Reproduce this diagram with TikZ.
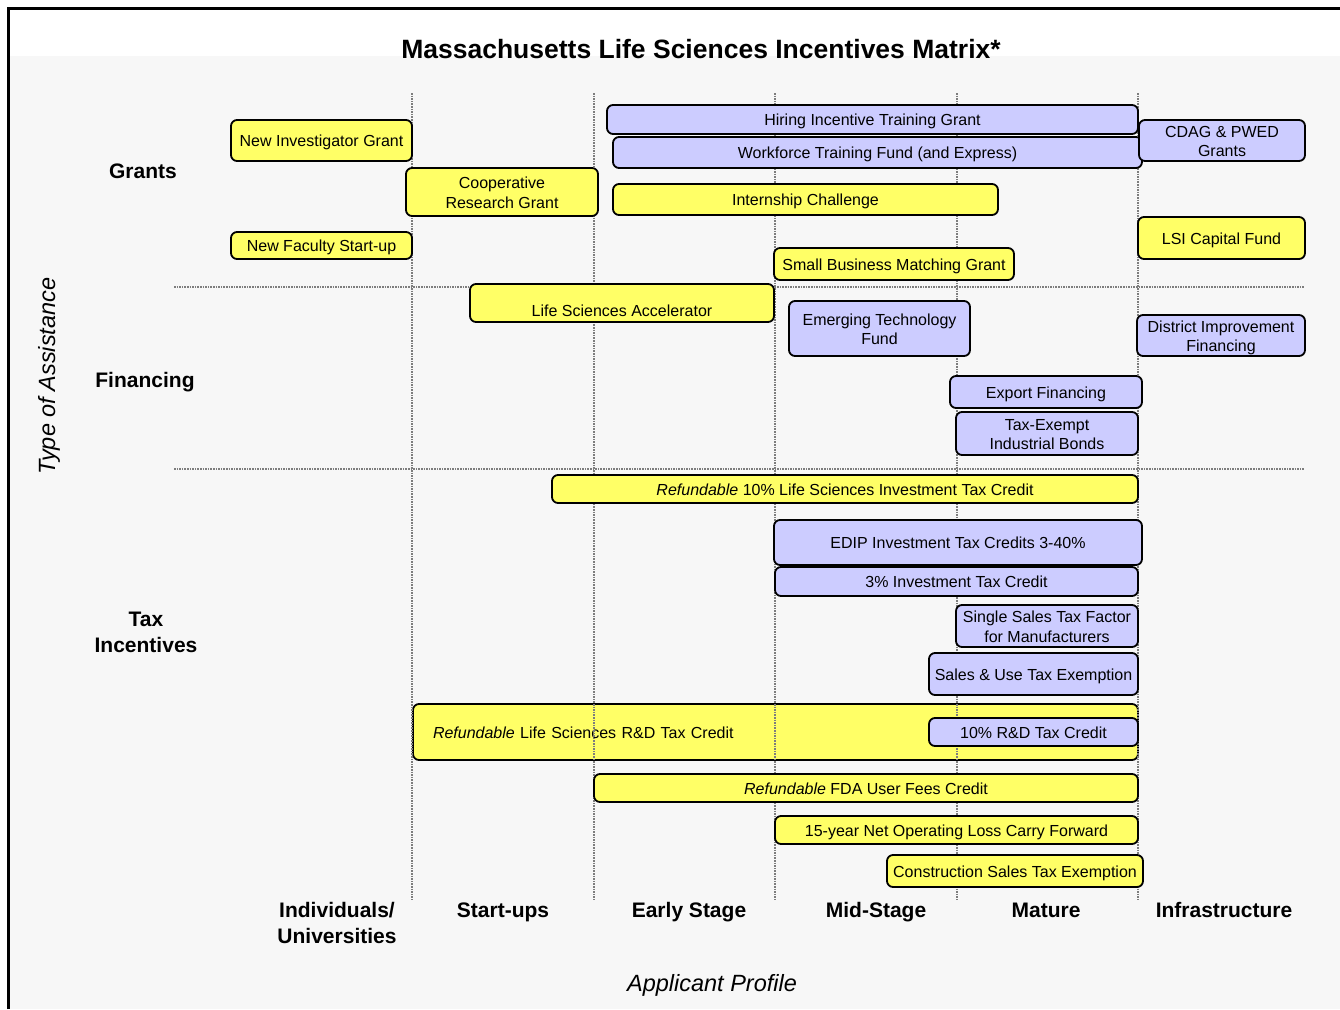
\documentclass[tikz,border=0pt]{standalone}
\usepackage{fontspec}
\setmainfont{Liberation Sans}
\definecolor{yel}{RGB}{255,255,102}
\definecolor{blu}{RGB}{204,204,255}
\definecolor{bgc}{RGB}{247,247,247}
\definecolor{dotc}{RGB}{125,125,125}
\newcommand{\lowtxt}[1]{\raisebox{-2.5pt}[\height][\depth]{\begin{tabular}{@{}c@{}}#1\end{tabular}}}
\tikzset{
  cell/.style={draw=black, line width=1.8pt, rounded corners=6pt, inner sep=0pt,
    align=center, font=\fontsize{16}{19.5}\selectfont},
  yc/.style={cell, fill=yel},
  bc/.style={cell, fill=blu},
  gridline/.style={draw=dotc, line width=2.2pt, dash pattern=on 1.6pt off 1pt},
  rowlab/.style={font=\bfseries\fontsize{21}{26}\selectfont, align=center},
  axlab/.style={font=\itshape\fontsize{23.5}{28}\selectfont},
}
\begin{document}
\begin{tikzpicture}[x=1pt,y=-1pt]
\useasboundingbox (0,0) rectangle (1340,1009);
\fill[white] (0,0) rectangle (1340,1009);
\fill[bgc] (10,56) rectangle (1340,1009);
\draw[line width=3pt] (8.5,1009) -- (8.5,8.5) -- (1340,8.5);

% title and axis labels
\node[font=\bfseries\fontsize{26.5}{30}\selectfont] (title) at (701,49) {Massachusetts Life Sciences Incentives Matrix*};
\node[axlab] (ap) at (712,985) {Applicant Profile};
\node[axlab, rotate=90] (toa) at (49,376) {Type of Assistance};

% row labels
\node[rowlab] (rg) at (143,171) {Grants};
\node[rowlab] (rf) at (145,382) {Financing};
\node[rowlab] (rt) at (146,632) {Tax\\Incentives};

% column labels
\node[rowlab, anchor=north] (c1) at (337,899) {Individuals/\\Universities};
\node[rowlab, anchor=base] (c2) at (503,917.5) {Start-ups};
\node[rowlab, anchor=base] (c3) at (689,917.5) {Early Stage};
\node[rowlab, anchor=base] (c4) at (876,917.5) {Mid-Stage};
\node[rowlab, anchor=base] (c5) at (1046,917.5) {Mature};
\node[rowlab, anchor=base] (c6) at (1224,917.5) {Infrastructure};

% big box under the grid
\node[yc, text width=685pt, align=left, inner xsep=20pt, minimum height=56pt] (rd) at (775.5,732) {\lowtxt{\textit{Refundable} Life Sciences R\&D Tax Credit}};

% grid
\foreach \gx in {412,594,775,957,1138} \draw[gridline] (\gx,93) -- (\gx,900);
\draw[gridline] (174,287) -- (1304,287);
\draw[gridline] (174,469) -- (1304,469);

% Grants
\node[yc, minimum width=181pt, minimum height=41pt] (nig) at (321.5,140.5) {\lowtxt{New Investigator Grant}};
\node[yc, minimum width=192pt, minimum height=48pt] (crg) at (502,192) {\lowtxt{Cooperative\\Research Grant}};
\node[yc, minimum width=181pt, minimum height=27pt] (nfs) at (321.5,245.5) {\lowtxt{New Faculty Start-up}};
\node[bc, minimum width=531pt, minimum height=29pt] (hitg) at (872.5,119.5) {\lowtxt{Hiring Incentive Training Grant}};
\node[bc, minimum width=529pt, minimum height=31pt] (wtf) at (877.5,152.5) {\lowtxt{Workforce Training Fund (and Express)}};
\node[bc, minimum width=166pt, minimum height=41pt] (cdag) at (1222,140.5) {\lowtxt{CDAG \& PWED\\Grants}};
\node[yc, minimum width=385pt, minimum height=31pt] (ic) at (805.5,199.5) {\lowtxt{Internship Challenge}};
\node[yc, minimum width=167pt, minimum height=42pt] (lsi) at (1221.5,238) {\lowtxt{LSI Capital Fund}};
\node[yc, minimum width=240pt, minimum height=32pt] (sbmg) at (894,264) {\lowtxt{Small Business Matching Grant}};

% Financing
\node[yc, minimum width=304pt, minimum height=38pt, text height=30pt, text depth=3.4pt] (lsa) at (622,303) {Life Sciences Accelerator};
\node[bc, minimum width=181pt, minimum height=55pt] (etf) at (879.5,328.5) {\lowtxt{Emerging Technology\\Fund}};
\node[bc, minimum width=168pt, minimum height=41pt] (dif) at (1221,335.5) {\lowtxt{District Improvement\\Financing}};
\node[bc, minimum width=192pt, minimum height=32pt] (ef) at (1046,392) {\lowtxt{Export Financing}};
\node[bc, minimum width=182pt, minimum height=43pt] (teib) at (1047,433.5) {\lowtxt{Tax-Exempt\\Industrial Bonds}};

% Tax incentives
\node[yc, minimum width=586pt, minimum height=28pt] (r10) at (845,489) {\lowtxt{\textit{Refundable} 10\% Life Sciences Investment Tax Credit}};
\node[bc, minimum width=368pt, minimum height=45pt] (edip) at (958,542.5) {\lowtxt{EDIP Investment Tax Credits 3-40\%}};
\node[bc, minimum width=363pt, minimum height=29pt] (itc3) at (956.5,581.5) {\lowtxt{3\% Investment Tax Credit}};
\node[bc, minimum width=182pt, minimum height=42pt] (sstf) at (1047,626) {\lowtxt{Single Sales Tax Factor\\for Manufacturers}};
\node[bc, minimum width=209pt, minimum height=42pt] (sute) at (1033.5,674) {\lowtxt{Sales \& Use Tax Exemption}};
\node[bc, minimum width=209pt, minimum height=28pt] (rd10) at (1033.5,732) {\lowtxt{10\% R\&D Tax Credit}};
\node[yc, minimum width=544pt, minimum height=28pt] (fda) at (866,788) {\lowtxt{\textit{Refundable} FDA User Fees Credit}};
\node[yc, minimum width=363pt, minimum height=28pt] (nol) at (956.5,830) {\lowtxt{15-year Net Operating Loss Carry Forward}};
\node[yc, minimum width=256pt, minimum height=32pt] (cste) at (1015,871) {\lowtxt{Construction Sales Tax Exemption}};
\end{tikzpicture}
\end{document}
